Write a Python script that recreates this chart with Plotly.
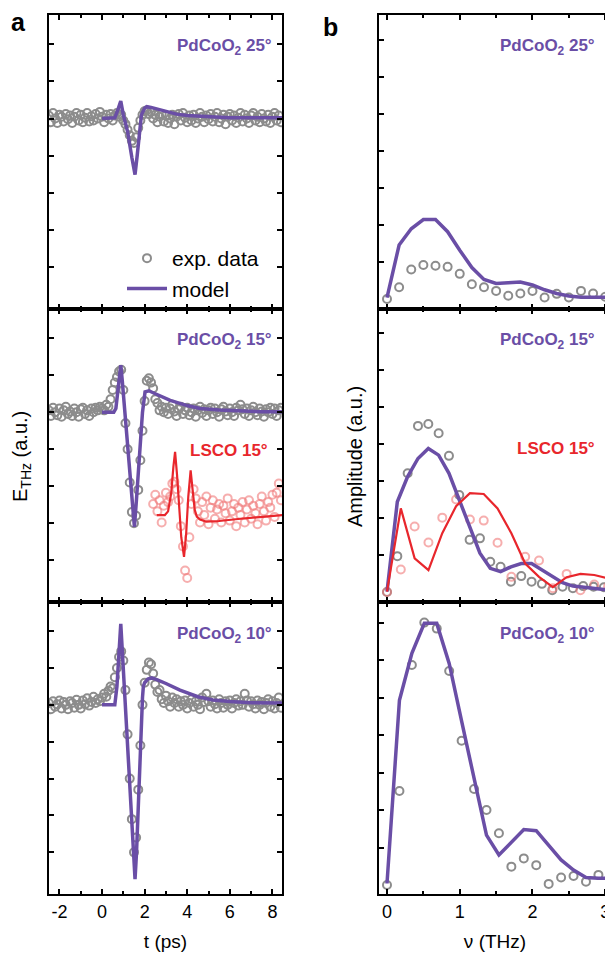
import plotly.graph_objects as go

# page body has an 8 px default margin: the figure is sized to fit the 613x953 window
OFF = 8
W, H = 613 - OFF, 953 - OFF
PURPLE = "#6a4ea6"
RED = "#e8262c"
GREY = "#8c8c8c"
PINK = "rgba(240,120,120,0.6)"
FONT = "Arial, Liberation Sans, sans-serif"

# ---------------- panel a: time-domain data (E_THz, a.u.) ----------------
T_STEP = 0.1
T0_DATA = -2.5
T0_LSCO = 2.4

data_25 = [0.08, -0.1, 0.15, 0.0, -0.12, 0.1, 0.05, -0.08, 0.12, -0.02, 0.08, -0.12, 0.05, 0.15, -0.05,
           0.1, -0.1, 0.02, 0.15, -0.08, 0.06, -0.05, 0.12, 0.0, 0.18,
           0.05, -0.1, 0.1, 0.0, 0.12, -0.05, 0.08, 0.15, 0.05, 0.1, -0.05, -0.15, -0.3, -0.45, -0.6,
           -0.66, -0.5, -0.25, -0.05, 0.1, 0.2, 0.22, 0.12, 0.18, 0.0, 0.1, -0.1, 0.05, 0.12, -0.08,
           0.08, -0.12, 0.0, 0.1, -0.15, 0.05, 0.12, -0.05, 0.15, 0.02, -0.1, 0.08, -0.05, 0.1, -0.12,
           0.0, 0.15, 0.05, -0.1, 0.08, -0.02, 0.12, -0.08, 0.05, 0.15, -0.1, 0.0, 0.1, -0.15, 0.05,
           0.12, -0.05, 0.08, -0.12, 0.02, 0.15, -0.08, 0.1, 0.0, -0.12, 0.08, 0.15, -0.05, 0.05, -0.1,
           0.12, 0.0, -0.08, 0.1, -0.12, 0.05, 0.15, -0.05, 0.08, -0.1]

data_15 = [0.05, -0.1, 0.12, 0.0, -0.08, 0.1, -0.12, 0.05, 0.15, -0.05, 0.02, -0.1, 0.1, 0.0, -0.12,
           0.08, 0.12, -0.05, 0.05, -0.1, 0.1, 0.0, 0.12, 0.05, 0.15,
           0.1, 0.05, 0.2, 0.15, 0.35, 0.6, 0.8, 0.95, 1.1, 1.15, 0.6, -0.3, -1.0, -1.9, -2.7,
           -3.0, -2.8, -2.1, -1.3, -0.5, 0.3, 0.85, 0.92, 0.8, 0.65, 0.35, 0.25, 0.05, 0.15, 0.0,
           0.12, -0.05, 0.1, 0.2, 0.02, -0.1, 0.08, 0.15, -0.05, 0.05, 0.12, -0.08, 0.0, 0.1, -0.12,
           0.05, 0.15, -0.02, 0.08, -0.1, 0.05, 0.12, -0.05, 0.1, 0.0, -0.12, 0.08, 0.15, 0.02, -0.08,
           0.1, 0.0, -0.1, 0.12, 0.05, 0.2, 0.08, -0.05, 0.1, -0.1, 0.05, 0.15, 0.0, -0.08, 0.1,
           0.02, -0.12, 0.08, 0.0, 0.12, -0.05, 0.1, -0.1, 0.05, 0.12]

data_10 = [0.05, -0.12, 0.1, -0.05, 0.02, 0.12, -0.1, 0.08, 0.0, -0.12, 0.1, 0.05, -0.08, 0.14, 0.0,
           -0.1, 0.12, 0.02, 0.18, -0.02, 0.08, 0.22, 0.05, 0.15, 0.1,
           0.2, 0.3, 0.22, 0.38, 0.5, 0.45, 0.75, 1.0, 1.3, 1.45, 1.2, 0.4, -0.8, -2.0, -3.1,
           -4.0, -3.6, -2.3, -1.1, 0.0, 0.6, 0.95, 1.15, 1.1, 0.85, 0.55, 0.35, 0.4, 0.15, 0.05,
           0.25, 0.1, -0.05, 0.2, 0.05, 0.15, -0.05, 0.1, 0.0, 0.12, -0.1, 0.05, 0.15, -0.05, 0.1,
           0.0, -0.12, 0.2, 0.08, 0.3, 0.1, -0.05, 0.12, 0.02, -0.1, 0.15, 0.05, -0.08, 0.1, 0.0,
           0.12, -0.1, 0.05, 0.15, -0.02, 0.1, 0.0, 0.3, 0.12, -0.05, 0.1, 0.02, -0.1, 0.12, 0.0,
           0.08, -0.12, 0.05, 0.15, -0.05, 0.1, -0.1, 0.05, 0.2, -0.08]

lsco_data = [0.3, 0.55, 0.1, 0.4, -0.2, 0.25, 0.6, 0.35, 0.5, 0.85, 0.9, 0.7, 0.4, -0.3, -0.85,
             -1.5, -1.7, -0.6, 0.3, 0.7, 0.45, 0.1, -0.2, 0.35, 0.0, 0.5, -0.25, 0.2, 0.4, -0.1,
             0.15, 0.3, -0.2, 0.25, 0.05, 0.45, -0.15, 0.1, 0.3, -0.3, 0.2, 0.0, 0.35, -0.2, 0.15,
             0.4, -0.1, 0.25, 0.05, -0.25, 0.3, 0.5, 0.1, -0.15, 0.35, 0.2, 0.55, -0.05, 0.6, 0.85, 0.4]
LSCO_OFFSET = -2.78

model25_t = [0, 0.6, 0.75, 0.88, 1.0, 1.2, 1.4, 1.55, 1.65, 1.75, 1.85, 2.0, 2.1, 2.3, 2.6, 3.0, 3.5, 4.0, 5.0, 6.0, 8.5]
model25_y = [0, 0.02, 0.25, 0.47, 0.1, -0.35, -1.05, -1.51, -1.0, -0.4, 0.1, 0.28, 0.32, 0.3, 0.25, 0.18, 0.12, 0.08, 0.04, 0.02, 0.02]

model15_t = [0, 0.55, 0.65, 0.75, 0.88, 0.95, 1.1, 1.3, 1.45, 1.52, 1.6, 1.7, 1.78, 1.9, 2.02, 2.2, 2.5, 3.2, 4.0, 4.6, 5.5, 6.5, 7.5, 8.5]
model15_y = [0, 0, 0.1, 0.55, 1.27, 0.85, -0.2, -1.6, -2.6, -3.1, -2.5, -1.7, -1.03, 0.0, 0.55, 0.58, 0.5, 0.32, 0.18, 0.1, 0.06, 0.03, 0.01, 0.01]

model10_t = [0, 0.6, 0.7, 0.8, 0.88, 0.95, 1.1, 1.3, 1.45, 1.55, 1.62, 1.7, 1.8, 1.9, 1.94, 2.0, 2.15, 2.33, 2.6, 3.0, 3.66, 4.5, 5.2, 6.0, 7.0, 8.5]
model10_y = [0, 0, 0.5, 1.5, 2.2, 1.48, -0.07, -2.1, -3.7, -4.73, -4.0, -3.0, -1.3, 0.2, 0.5, 0.6, 0.7, 0.73, 0.68, 0.58, 0.4, 0.22, 0.13, 0.09, 0.06, 0.05]

lsco_model_t = [2.57, 2.95, 3.1, 3.25, 3.35, 3.43, 3.52, 3.62, 3.72, 3.85, 3.95, 4.05, 4.16, 4.25, 4.35, 4.45, 4.6, 4.9, 5.5, 6.5, 7.5, 8.5]
lsco_model_y = [0, 0, 0.1, 0.6, 1.3, 1.71, 1.1, 0.2, -0.6, -1.13, -0.5, 0.5, 1.21, 0.7, 0.15, -0.04, -0.12, -0.18, -0.16, -0.1, -0.05, 0.0]

# ---------------- panel b: spectra (Amplitude, a.u.) ----------------
DNU_25, DNU_15, DNU_LSCO, DNU_10 = 0.1667, 0.142, 0.19, 0.171

spec25_data = [0.0, 0.32, 0.8, 0.92, 0.9, 0.87, 0.68, 0.4, 0.32, 0.22, 0.09, 0.15, 0.22, 0.04, 0.14, 0.04, 0.22, 0.15, 0.06]
spec25_model = [0.04, 1.46, 1.9, 2.15, 2.15, 1.82, 1.32, 0.85, 0.53, 0.42, 0.44, 0.46, 0.38, 0.25, 0.15, 0.08, 0.05, 0.05, 0.05, 0.05]

spec15_data = [0.0, 0.97, 3.21, 4.49, 4.54, 4.29, 3.68, 2.62, 1.41, 1.45, 0.82, 0.68, 0.28, 0.43, 0.28, 0.22, 0.05, 0.14, 0.1, 0.16, 0.14, 0.13, 0.1]
spec15_model = [0.01, 2.44, 3.12, 3.61, 3.88, 3.7, 3.21, 2.49, 1.77, 1.05, 0.64, 0.55, 0.68, 0.77, 0.77, 0.59, 0.41, 0.25, 0.16, 0.13, 0.1, 0.07, 0.07]

lsco_spec_data = [0.0, 0.61, 1.77, 1.34, 2.01, 2.5, 1.96, 1.93, 1.33, 0.41, 0.95, 0.85, 0.1, 0.49, 0.05, 0.2, 0.15]
lsco_spec_model = [0.01, 2.26, 0.91, 0.59, 1.59, 2.32, 2.67, 2.65, 2.26, 1.59, 0.77, 0.41, 0.13, 0.4, 0.49, 0.46, 0.37, 0.28]

spec10_data = [0.0, 2.51, 5.87, 7.0, 6.84, 5.71, 3.85, 2.56, 2.0, 1.38, 0.49, 0.71, 0.53, 0.03, 0.2, 0.24, 0.09, 0.27, 0.04]
spec10_model = [0.04, 4.93, 6.18, 6.98, 6.98, 5.91, 4.37, 2.84, 1.33, 0.8, 1.13, 1.48, 1.45, 1.07, 0.67, 0.4, 0.2, 0.18, 0.18]

T_TICKS = [-2, 0, 2, 4, 6, 8]
T_TICKTEXT = ["-2", "0", "2", "4", "6", "8"]
NU_TICKS = [0, 1, 2, 3]


def tgrid(t0, n, step):
    return [round(t0 + i * step, 4) for i in range(n)]


def data_trace(x, y, ax, color=GREY, name="exp. data", show=False):
    return go.Scatter(x=x, y=y, mode="markers", name=name, showlegend=show,
                      xaxis="x" + ax, yaxis="y" + ax, cliponaxis=True,
                      marker=dict(symbol="circle-open", size=8, color=color, line=dict(width=2, color=color)))


def model_trace(x, y, ax, color=PURPLE, name="model", show=False, width=3.5):
    return go.Scatter(x=x, y=y, mode="lines", name=name, showlegend=show,
                      xaxis="x" + ax, yaxis="y" + ax, line=dict(color=color, width=width))


fig = go.Figure()
# panel a
fig.add_trace(data_trace(tgrid(T0_DATA, len(data_25), T_STEP), data_25, "", show=True))
fig.add_trace(model_trace(model25_t, model25_y, "", show=True))
fig.add_trace(data_trace(tgrid(T0_DATA, len(data_15), T_STEP), data_15, "2"))
fig.add_trace(data_trace(tgrid(T0_LSCO, len(lsco_data), T_STEP), [v + LSCO_OFFSET for v in lsco_data], "2", color=PINK))
fig.add_trace(model_trace(model15_t, model15_y, "2"))
fig.add_trace(model_trace(lsco_model_t, [v + LSCO_OFFSET for v in lsco_model_y], "2", color=RED, width=2.2))
fig.add_trace(data_trace(tgrid(T0_DATA, len(data_10), T_STEP), data_10, "3"))
fig.add_trace(model_trace(model10_t, model10_y, "3"))
# panel b
fig.add_trace(data_trace(tgrid(0, len(spec25_data), DNU_25), spec25_data, "4"))
fig.add_trace(model_trace(tgrid(0, len(spec25_model), DNU_25), spec25_model, "4"))
fig.add_trace(data_trace(tgrid(0, len(spec15_data), DNU_15), spec15_data, "5"))
fig.add_trace(data_trace(tgrid(0, len(lsco_spec_data), DNU_LSCO), lsco_spec_data, "5", color=PINK))
fig.add_trace(model_trace(tgrid(0, len(spec15_model), DNU_15), spec15_model, "5"))
fig.add_trace(model_trace(tgrid(0, len(lsco_spec_model), DNU_LSCO), lsco_spec_model, "5", color=RED, width=2.2))
fig.add_trace(data_trace(tgrid(0, len(spec10_data), DNU_10), spec10_data, "6"))
fig.add_trace(model_trace(tgrid(0, len(spec10_model), DNU_10), spec10_model, "6"))


def fx(px):
    return (px - OFF) / W


def fy(py):
    return 1 - (py - OFF) / H


XA = [fx(49), fx(282)]
XB = [fx(379), fx(611)]
ROWS = [(15, 309), (309, 602), (602, 894)]


def ydom(r):
    return [fy(r[1]), fy(r[0])]


common = dict(showline=True, linecolor="black", linewidth=2, mirror="ticks", ticks="inside",
              tickcolor="black", tickwidth=1.5, ticklen=5, showgrid=False, zeroline=False)
tickfont = dict(family=FONT, size=18, color="black")
titlefont = dict(family=FONT, size=19, color="black")

layout = dict(width=W, height=H, margin=dict(l=0, r=0, t=0, b=0),
              paper_bgcolor="white", plot_bgcolor="white", showlegend=True,
              legend=dict(x=fx(122), y=fy(238), xanchor="left", yanchor="top",
                          bgcolor="rgba(0,0,0,0)", font=dict(family=FONT, size=21, color="black"),
                          tracegroupgap=0, itemwidth=40))

a_ranges_y = [-5.13, 2.79]
b_ranges_y = [[-0.27, 7.68], [-0.27, 7.65], [-0.24, 7.55]]
for i in range(3):
    ka = "" if i == 0 else str(i + 1)
    kb = str(i + 4)
    bottom = (i == 2)
    layout["xaxis" + ka] = dict(common, domain=XA, anchor="y" + ka, range=[-2.49, 8.45],
                                tickmode="array", tickvals=T_TICKS, ticktext=T_TICKTEXT, showticklabels=bottom,
                                tickfont=tickfont,
                                minor=dict(ticks="inside", ticklen=3, tickmode="linear", dtick=1, tick0=1,
                                           tickcolor="black", tickwidth=1.5),
                                title=dict(text="t (ps)" if bottom else "", font=titlefont, standoff=14))
    layout["yaxis" + ka] = dict(common, domain=ydom(ROWS[i]), anchor="x" + ka, range=a_ranges_y,
                                tickmode="array", tickvals=[-4, -3, -2, -1, 0, 1, 2], showticklabels=False)
    layout["xaxis" + kb] = dict(common, domain=XB, anchor="y" + kb, range=[-0.11, 3.08],
                                tickmode="array", tickvals=NU_TICKS, showticklabels=bottom,
                                tickfont=tickfont,
                                minor=dict(ticks="inside", ticklen=3, tickmode="linear", dtick=0.5, tick0=0.5,
                                           tickcolor="black", tickwidth=1.5),
                                title=dict(text="ν (THz)" if bottom else "", font=titlefont, standoff=14))
    layout["yaxis" + kb] = dict(common, domain=ydom(ROWS[i]), anchor="x" + kb, range=b_ranges_y[i],
                                tickmode="array", tickvals=[1, 2, 3, 4, 5, 6, 7], showticklabels=False)

fig.update_layout(**layout)


def ann(text, xpx, ypx, size, color="black", bold=False, xanchor="center", angle=0):
    fig.add_annotation(text=("<b>%s</b>" % text) if bold else text, x=fx(xpx), y=fy(ypx),
                       xref="paper", yref="paper", showarrow=False, xanchor=xanchor, yanchor="middle",
                       textangle=angle, borderpad=0, font=dict(family=FONT, size=size, color=color))


ann("a", 18, 22, 25, bold=True)
ann("b", 330, 27, 25, bold=True)
ann("E<sub>THz</sub> (a.u.)", 22, 457, 20, angle=-90)
ann("Amplitude (a.u.)", 355, 457, 20, angle=-90)

SAMPLE = [("PdCoO<sub>2</sub> 25°", 47), ("PdCoO<sub>2</sub> 15°", 341), ("PdCoO<sub>2</sub> 10°", 635)]
for txt, y in SAMPLE:
    ann(txt, 273, y, 17, color=PURPLE, bold=True, xanchor="right")
    ann(txt, 596, y, 17, color=PURPLE, bold=True, xanchor="right")
ann("LSCO 15°", 269, 450, 17, color=RED, bold=True, xanchor="right")
ann("LSCO 15°", 596, 448, 17, color=RED, bold=True, xanchor="right")

fig.write_html("out.html")
